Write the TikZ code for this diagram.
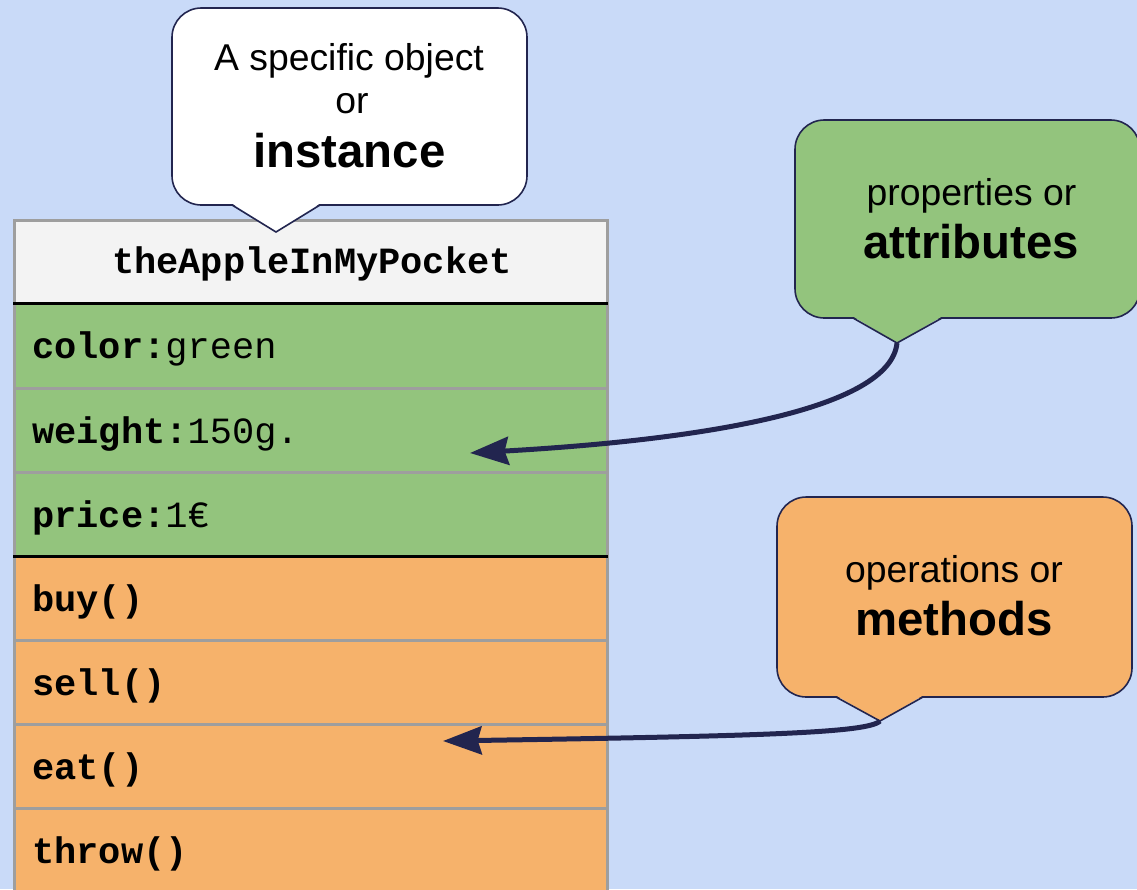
\documentclass[tikz,border=0pt]{standalone}
\usepackage{fontspec}
\setmainfont{Liberation Sans}
\setmonofont{Liberation Mono}
\usetikzlibrary{arrows.meta}
\definecolor{bgblue}{HTML}{C9DAF8}
\definecolor{attrgreen}{HTML}{93C47D}
\definecolor{methorange}{HTML}{F6B26B}
\definecolor{headgray}{HTML}{F3F3F3}
\definecolor{linegray}{HTML}{9E9E9E}
\definecolor{navy}{HTML}{22254F}
\tikzset{
  bubble/.style={draw=navy, line width=1.2pt, rounded corners=22pt, inner sep=0pt},
  tipline/.style={draw=navy, line width=1.2pt, line join=miter},
  rowline/.style={draw=linegray, line width=2.25pt},
  sepline/.style={draw=black, line width=2.25pt},
  lbl/.style={anchor=base west, inner sep=0pt, font=\fontsize{27.75}{30}\ttfamily},
  head/.style={anchor=base, inner sep=0pt, font=\fontsize{27.75}{30}\ttfamily\bfseries},
  say/.style={anchor=base, inner sep=0pt, font=\fontsize{28}{32}\selectfont},
  sayb/.style={anchor=base, inner sep=0pt, font=\fontsize{35.5}{40}\selectfont\bfseries},
  link/.style={draw=navy, line width=3.75pt, -{Stealth[length=29pt,width=21pt,inset=3pt]}}
}
\begin{document}
\begin{tikzpicture}[x=0.75pt,y=-0.75pt]
\fill[bgblue] (0,0) rectangle (1137,889);
\useasboundingbox (0,0) rectangle (1137,889);
\clip (0,0) rectangle (1137,889);

% class table
\fill[headgray] (14,220) rectangle (607,303);
\foreach \t/\c in {303/attrgreen,388/attrgreen,472/attrgreen,556/methorange,640/methorange,724/methorange,808/methorange}
{\fill[\c] (14,\t) rectangle ++(593,84);}
\foreach \t in {388,472,640,724,808}
{\draw[rowline] (14,\t) -- (607,\t);}
\draw[rowline] (14,900) -- (14,220) -- (607,220) -- (607,900);
\draw[sepline] (13,303) -- (608,303);
\draw[sepline] (13,556) -- (608,556);

\node[head] (cls) at (312,273) {theAppleInMyPocket};
\foreach \n/\b/\l in {color/358/\textbf{color:}green,weight/443/\textbf{weight:}150g.,price/527/\textbf{price:}1€,buy/611/\textbf{buy()},sell/695/\textbf{sell()},eat/779/\textbf{eat()},throw/863/\textbf{throw()}}
{\node[lbl] (\n) at (32,\b) {\l};}

% callouts
\node[bubble, fill=white, minimum width=266.25pt, minimum height=147.75pt] (inst) at (349.5,106.5) {};
\coordinate (insttip) at (276,232);
\fill[white] (232,203.5) -- (insttip) -- (320,203.5) -- cycle;
\draw[tipline] (232,205) -- (insttip) -- (320,205);
\node[say] (inst1) at (349,70) {A specific object};
\node[say] (inst2) at (352,113) {or};
\node[sayb] (inst3) at (349.5,167) {instance};

\node[bubble, fill=attrgreen, minimum width=258.75pt, minimum height=148.5pt] (attr) at (967.5,219) {};
\coordinate (attrtip) at (897,343);
\fill[attrgreen] (853,316.5) -- (attrtip) -- (942,316.5) -- cycle;
\draw[tipline] (853,318) -- (attrtip) -- (942,318);
\node[say] (attr1) at (971.5,205) {properties or};
\node[sayb] (attr2) at (971,258) {attributes};

\node[bubble, fill=methorange, minimum width=266.25pt, minimum height=150pt] (meth) at (954.5,597) {};
\coordinate (methtip) at (880,721);
\fill[methorange] (836,695.5) -- (methtip) -- (923,695.5) -- cycle;
\draw[tipline] (836,697) -- (methtip) -- (923,697);
\node[say] (meth1) at (954,582) {operations or};
\node[sayb] (meth2) at (953.7,635) {methods};

% arrows
\coordinate (attrend) at (470,453);
\coordinate (methend) at (443,741);
\draw[link] (attrtip) .. controls (890,410) and (700,440) .. (attrend);
\draw[link] (methtip) .. controls (868,733) and (760,736) .. (methend);
\end{tikzpicture}
\end{document}
